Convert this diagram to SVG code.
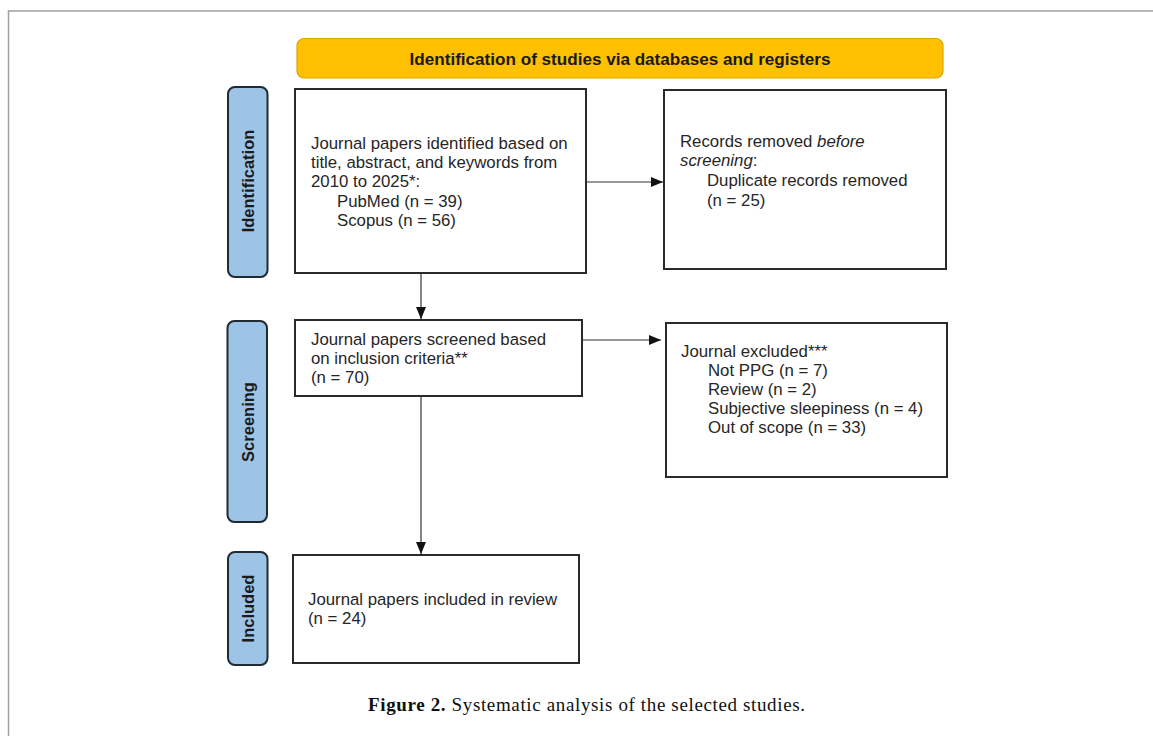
<svg xmlns="http://www.w3.org/2000/svg" width="1153" height="736" viewBox="0 0 1153 736">
<style>
.t{font-family:"Liberation Sans",Arial,sans-serif;font-size:16.8px;fill:#262626}
.lab{font-family:"Liberation Sans",Arial,sans-serif;font-size:16.5px;font-weight:bold;fill:#1a1a1a;text-anchor:middle}
.box{fill:#fff;stroke:#2a2a2a;stroke-width:2}
.side{fill:#9dc3e6;stroke:#1f2a33;stroke-width:2}
.conn{stroke:#333;stroke-width:1.2;fill:none}
</style>
<defs>
<marker id="ah" viewBox="0 0 12 10" refX="12" refY="5" markerWidth="12" markerHeight="10" markerUnits="userSpaceOnUse" orient="auto">
<path d="M0,0 L12,5 L0,10 Z" fill="#111"/>
</marker>
</defs>
<rect width="1153" height="736" fill="#fff"/>
<path d="M8.5,736 V11 H1153" fill="none" stroke="#a0a0a0" stroke-width="1.5"/>

<g id="header">
<rect x="297" y="38.5" width="646" height="39.5" rx="7" fill="#ffc000" stroke="#d9a600" stroke-width="1.2"/>
<text class="lab" x="620" y="65" style="font-size:17.1px">Identification of studies via databases and registers</text>
</g>

<g id="phase-identification">
<rect class="side" x="228" y="87" width="39.5" height="190" rx="7"/>
<text class="lab" transform="translate(254,181) rotate(-90)">Identification</text>
</g>
<g id="phase-screening">
<rect class="side" x="227.5" y="321" width="39.5" height="201" rx="7"/>
<text class="lab" transform="translate(253.5,422) rotate(-90)">Screening</text>
</g>
<g id="phase-included">
<rect class="side" x="228" y="552" width="39.5" height="113" rx="7"/>
<text class="lab" transform="translate(254,608.5) rotate(-90)">Included</text>
</g>

<g id="identified">
<rect class="box" x="295" y="89" width="291" height="184"/>
<text class="t" x="311" y="149">Journal papers identified based on</text>
<text class="t" x="311" y="168">title, abstract, and keywords from</text>
<text class="t" x="311" y="187">2010 to 2025*:</text>
<text class="t" x="337" y="207">PubMed (n = 39)</text>
<text class="t" x="337" y="226">Scopus (n = 56)</text>
</g>

<g id="removed">
<rect class="box" x="664" y="90" width="282" height="179"/>
<text class="t" x="680" y="147">Records removed <tspan font-style="italic">before</tspan></text>
<text class="t" x="680" y="166"><tspan font-style="italic">screening</tspan>:</text>
<text class="t" x="707" y="186">Duplicate records removed</text>
<text class="t" x="707" y="206">(n = 25)</text>
</g>

<g id="screened">
<rect class="box" x="295" y="320" width="287" height="76"/>
<text class="t" x="311" y="345">Journal papers screened based</text>
<text class="t" x="311" y="364">on inclusion criteria**</text>
<text class="t" x="311" y="383">(n = 70)</text>
</g>

<g id="excluded">
<rect class="box" x="666" y="323" width="281" height="154"/>
<text class="t" x="681" y="357">Journal excluded***</text>
<text class="t" x="708" y="376">Not PPG (n = 7)</text>
<text class="t" x="708" y="395">Review (n = 2)</text>
<text class="t" x="708" y="414">Subjective sleepiness (n = 4)</text>
<text class="t" x="708" y="433">Out of scope (n = 33)</text>
</g>

<g id="included">
<rect class="box" x="293" y="555" width="286" height="108"/>
<text class="t" x="308" y="605">Journal papers included in review</text>
<text class="t" x="308" y="624">(n = 24)</text>
</g>

<g id="connectors">
<line class="conn" x1="586" y1="182" x2="663" y2="182" marker-end="url(#ah)"/>
<line class="conn" x1="421" y1="273" x2="421" y2="319" marker-end="url(#ah)"/>
<line class="conn" x1="582" y1="340" x2="661" y2="340" marker-end="url(#ah)"/>
<line class="conn" x1="421" y1="396" x2="421" y2="554" marker-end="url(#ah)"/>
</g>

<g id="caption">
<text x="368" y="711" textLength="437" lengthAdjust="spacing" style="font-family:'Liberation Serif','Times New Roman',serif;font-size:19px;fill:#111"><tspan font-weight="bold">Figure 2.</tspan> Systematic analysis of the selected studies.</text>
</g>
</svg>
